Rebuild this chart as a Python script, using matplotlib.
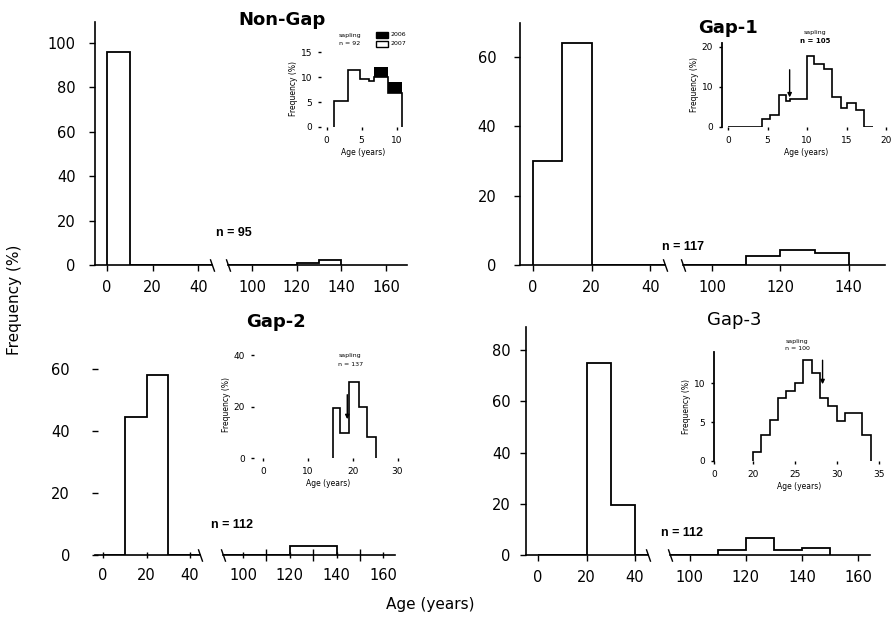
import numpy as np
import matplotlib
matplotlib.use("Agg")
import matplotlib.pyplot as plt
from matplotlib.patches import Rectangle

plt.rcParams['font.family'] = ['DejaVu Sans']

# main histograms, 10-year age classes starting at 0
age_edges = np.arange(0, 170, 10)
nongap_freq = [96, 0, 0, 0, 0, 0, 0, 0, 0, 0, 0, 0, 1.1, 2.1]
gap1_freq = [30, 64, 0, 0, 0, 0, 0, 0, 0, 0, 0, 2.6, 4.3, 3.4]
gap2_freq = [0, 44.6, 58, 0, 0, 0, 0, 0, 0, 0, 0, 0, 3, 3]
gap3_freq = [0, 0, 75, 19.6, 0, 0, 0, 0, 0, 0, 0, 1.8, 6.5, 1.8, 2.7]
panel_n = ["n = 95", "n = 117", "n = 112", "n = 112"]
panel_titles = ["Non-Gap", "Gap-1", "Gap-2", "Gap-3"]

# inset histograms (saplings)
ng_in_edges = [1.1, 3, 4.8, 6, 6.7, 8.8, 10.7]
ng_in_open = [5.2, 11.5, 9.7, 9.2, 10, 6.8]
ng_in_fill = [0, 0, 9.7, 9.2, 12, 9.1]
g1_in_edges = [0, 4.3, 5.3, 6.4, 7.4, 7.8, 10, 10.9, 12.1, 13.2, 14.3, 15.1, 16.2, 17.2, 18.3]
g1_in_freq = [0, 2.1, 3.1, 7.9, 6.4, 6.9, 17.7, 15.8, 14.6, 7.5, 4.8, 6.0, 4.2, 0]
g2_in_edges = [15.7, 17.2, 19.1, 21.4, 23.3, 25.2]
g2_in_freq = [19.4, 9.7, 29.5, 20, 8.2]
g3_in_edges = [20, 21, 22, 23, 24, 25, 26, 27, 28, 29, 30, 31, 32, 33, 34]
g3_in_freq = [1.2, 3.3, 5.3, 8.1, 9.0, 10, 13, 11.3, 8.1, 7.1, 5.2, 6.2, 6.2, 3.3]


def px(x0, y0, x1, y1):
    # pixel box (top-left, bottom-right) -> figure fraction rect
    W, H = 896.0, 619.0
    return [x0 / W, 1 - y1 / H, (x1 - x0) / W, (y1 - y0) / H]


def broken_panel(fig, rect_lo, rect_hi, freq, ylim, yticks, lo_lim, hi_lim, hi_ticks,
                 yspine=True, inout=False, ypad=8):
    ax_lo = fig.add_axes(rect_lo)
    ax_hi = fig.add_axes(rect_hi)
    edges = age_edges[:len(freq) + 1]
    for ax in (ax_lo, ax_hi):
        ax.stairs(freq, edges, color='black', lw=1.3, baseline=0)
        ax.set_ylim(ylim)
        for s in ['top', 'right']:
            ax.spines[s].set_visible(False)
        ax.spines['bottom'].set_linewidth(1.2)
        ax.tick_params(labelsize=10.5, length=4, width=1,
                       direction='inout' if inout else 'out')
        ax.tick_params(axis='x', pad=7)
    ax_lo.set_xlim(lo_lim)
    ax_lo.set_xticks([0, 20, 40])
    ax_lo.set_yticks(yticks)
    ax_lo.tick_params(axis='y', pad=ypad)
    ax_lo.spines['left'].set_linewidth(1.2)
    if not yspine:
        ax_lo.spines['left'].set_visible(False)
    ax_hi.set_xlim(hi_lim)
    ax_hi.set_xticks(hi_ticks)
    ax_hi.spines['left'].set_visible(False)
    ax_hi.set_yticks([])
    if inout:
        ax_hi.set_xticks([110, 130, 150], minor=True)
        ax_hi.tick_params(which='minor', direction='inout', length=8, width=1)
    brk = [(-0.35, 1), (0.35, -1)]
    ax_lo.plot([1], [0], transform=ax_lo.transAxes, marker=brk, ms=9, mec='black',
               mew=1, ls='none', clip_on=False)
    ax_hi.plot([0], [0], transform=ax_hi.transAxes, marker=brk, ms=9, mec='black',
               mew=1, ls='none', clip_on=False)
    return ax_lo, ax_hi


def inset_axes(fig, rect, xlim, ylim, xticks, yticks, xticklabels=None, yspine=False):
    ax = fig.add_axes(rect)
    ax.patch.set_alpha(0)
    for s in ['top', 'right', 'bottom']:
        ax.spines[s].set_visible(False)
    ax.spines['left'].set_visible(yspine)
    ax.spines['left'].set_linewidth(1.3)
    ax.set_xlim(xlim)
    ax.set_ylim(ylim)
    ax.set_xticks(xticks)
    if xticklabels is not None:
        ax.set_xticklabels(xticklabels)
    ax.set_yticks(yticks)
    ax.tick_params(labelsize=6.5, length=2.5, width=1, pad=4)
    ax.set_xlabel("Age (years)", fontsize=5.5, labelpad=2)
    ax.set_ylabel("Frequency (%)", fontsize=5.5, labelpad=2)
    return ax


fig = plt.figure(figsize=(8.96, 6.19), dpi=100)

# Non-Gap
broken_panel(fig, px(95, 22, 212, 265), px(228, 22, 407, 265), nongap_freq,
             (0, 109.5), [0, 20, 40, 60, 80, 100], (-5.3, 46), (89, 169.5),
             [100, 120, 140, 160], ypad=10)
# Gap-1
broken_panel(fig, px(520, 23, 665, 265), px(683, 23, 885, 265), gap1_freq,
             (0, 69.7), [0, 20, 40, 60], (-4.4, 45), (91.5, 150.6),
             [100, 120, 140], ypad=13)
# Gap-2
broken_panel(fig, px(95, 338, 200, 555), px(223, 338, 395, 555), gap2_freq,
             (0, 70), [0, 20, 40, 60], (-3.7, 44.6), (91.4, 165),
             [100, 120, 140, 160], yspine=False, inout=True, ypad=16)
# Gap-3
broken_panel(fig, px(526, 327, 648, 555), px(670, 327, 870, 555), gap3_freq,
             (0, 89), [0, 20, 40, 60, 80], (-5, 45.4), (92.9, 164.3),
             [100, 120, 140, 160], ypad=7)

# titles and sample sizes
fig.text(0.315, 0.968, panel_titles[0], ha='center', va='center', fontsize=13, fontweight='bold')
fig.text(0.813, 0.955, panel_titles[1], ha='center', va='center', fontsize=13, fontweight='bold')
fig.text(0.308, 0.480, panel_titles[2], ha='center', va='center', fontsize=13, fontweight='bold')
fig.text(0.819, 0.483, panel_titles[3], ha='center', va='center', fontsize=13)
nfont = dict(ha='center', va='center', fontsize=9, fontweight='bold', family='Liberation Sans')
fig.text(0.261, 0.624, panel_n[0], **nfont)
fig.text(0.762, 0.601, panel_n[1], **nfont)
fig.text(0.259, 0.152, panel_n[2], **nfont)
fig.text(0.761, 0.139, panel_n[3], **nfont)

fig.text(0.016, 0.515, "Frequency (%)", rotation=90, ha='center', va='center', fontsize=11)
fig.text(0.48, 0.023, "Age (years)", ha='center', va='center', fontsize=11)

# inset: Non-Gap
ax = inset_axes(fig, px(321, 50, 405, 127), (-0.8, 11.2), (0, 15.5), [0, 5, 10], [0, 5, 10, 15])
ax.stairs(ng_in_fill, ng_in_edges, fill=True, color='black', baseline=0)
ax.stairs(ng_in_open, ng_in_edges, fill=True, color='white', baseline=0)
ax.stairs(ng_in_open, ng_in_edges, color='black', lw=1.2, baseline=0)
ax.text(3.3, 18.4, "sapling", fontsize=4.5, ha='center', va='center', clip_on=False)
ax.text(3.3, 16.9, "n = 92", fontsize=4.5, ha='center', va='center', clip_on=False)
ax.add_patch(Rectangle((7.1, 18.0), 1.6, 1.2, facecolor='black', edgecolor='black', clip_on=False))
ax.add_patch(Rectangle((7.1, 16.2), 1.6, 1.2, facecolor='white', edgecolor='black', clip_on=False))
ax.text(9.1, 18.6, "2006", fontsize=4.5, ha='left', va='center', clip_on=False)
ax.text(9.1, 16.8, "2007", fontsize=4.5, ha='left', va='center', clip_on=False)

# inset: Gap-1
ax = inset_axes(fig, px(722, 43, 890, 127), (-0.76, 20.5), (0, 21), [0, 5, 10, 15, 20], [0, 10, 20],
                yspine=True)
ax.stairs(g1_in_freq, g1_in_edges, color='black', lw=1.2, baseline=0)
ax.annotate("", xy=(7.8, 6.7), xytext=(7.8, 15),
            arrowprops=dict(arrowstyle='-|>', color='black', lw=1, mutation_scale=6))
ax.text(11, 23.6, "sapling", fontsize=4.5, ha='center', va='center', clip_on=False)
ax.text(11, 21.6, "n = 105", fontsize=5, ha='center', va='center', clip_on=False, fontweight='bold')

# inset: Gap-2
ax = inset_axes(fig, px(254, 350, 402, 458), (-2, 31), (0, 42), [0, 10, 20, 30], [0, 20, 40])
ax.stairs(g2_in_freq, g2_in_edges, color='black', lw=1.2, baseline=0)
ax.annotate("", xy=(18.8, 14), xytext=(18.8, 25.7),
            arrowprops=dict(arrowstyle='-|>', color='black', lw=1, mutation_scale=6))
ax.text(19.5, 40, "sapling", fontsize=4.5, ha='center', va='center', clip_on=False)
ax.text(19.5, 36.2, "n = 137", fontsize=4.5, ha='center', va='center', clip_on=False)

# inset: Gap-3
ax = inset_axes(fig, px(714, 352, 884, 461), (15.4, 35.6), (0, 14),
                [15.4, 20, 25, 30, 35], [0, 5, 10], xticklabels=['0', '20', '25', '30', '35'],
                yspine=True)
ax.stairs(g3_in_freq, g3_in_edges, color='black', lw=1.2, baseline=0)
ax.annotate("", xy=(28.3, 9.5), xytext=(28.3, 13.3),
            arrowprops=dict(arrowstyle='-|>', color='black', lw=1, mutation_scale=6))
ax.text(25.3, 15.3, "sapling", fontsize=4.5, ha='center', va='center', clip_on=False)
ax.text(25.3, 14.4, "n = 100", fontsize=4.5, ha='center', va='center', clip_on=False)

fig.savefig("out.png", dpi=100)
